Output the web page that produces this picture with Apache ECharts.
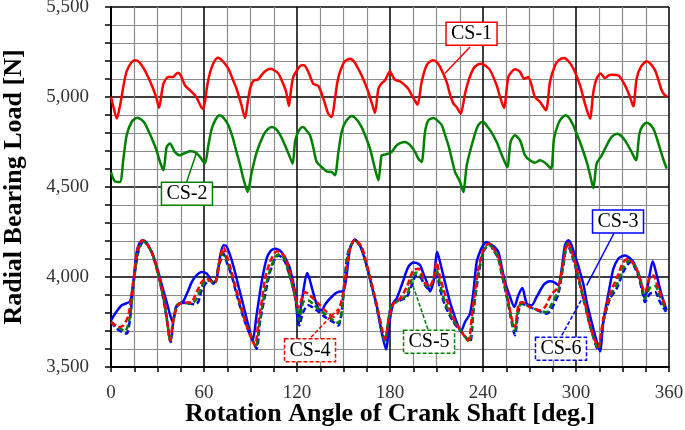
<!DOCTYPE html>
<html><head><meta charset="utf-8">
<script src="https://cdn.jsdelivr.net/npm/echarts@6/dist/echarts.min.js"></script>
<style>html,body{margin:0;padding:0;background:#fff}#c{width:685px;height:430px}</style>
</head><body><div id="c"></div>
<script>
// ---- data: [rotation angle (deg), radial bearing load (N)] ----
const cs1 = [[0,5000],[2,4930],[3.7,4880],[6,4960],[8,5060],[10,5140],[13,5190],[15.5,5204],[18,5195],[21,5160],[24,5110],[27,5050],[29.5,4990],[31,4940],[33.8,5074],[37,5111],[40,5111],[43,5135],[45,5120],[47.7,5065],[51,5037],[55,5000],[59,4935],[60.6,4972],[62,5060],[64,5139],[66.5,5195],[69,5218],[72,5200],[75.7,5157],[78,5110],[81,5046],[84,4960],[86.5,4883],[88,4960],[89.7,5046],[91.8,5089],[95,5098],[97,5120],[99.4,5143],[102.6,5157],[105,5150],[108,5130],[111,5075],[113,5028],[114.8,4950],[116,5030],[117.6,5110],[120.9,5160],[123,5176],[124.5,5176],[127.3,5139],[130.5,5074],[133.8,5061],[137,4991],[140.2,4907],[142.4,4889],[144.5,4991],[146,5080],[147.7,5139],[150.5,5195],[154.2,5213],[157,5195],[160.6,5139],[163.5,5085],[166,5028],[168.5,4960],[170.3,4911],[172.5,5046],[174.5,5075],[176.8,5093],[180,5143],[181.5,5120],[183.2,5096],[186.5,5087],[189,5070],[191.8,5046],[194,5010],[196,4981],[197.8,4957],[200.4,5083],[203.6,5176],[207.5,5204],[210,5195],[212.3,5167],[216.6,5083],[218.5,5020],[220.9,4963],[223,4944],[225.6,4907],[228.4,5018],[231,5100],[233.8,5157],[236.5,5180],[239,5185],[241.5,5175],[244.5,5150],[248.8,5065],[251,5000],[253.5,4939],[256.3,5111],[258.5,5140],[260.6,5154],[263.9,5139],[266.5,5102],[269.2,5111],[271.5,5060],[273.5,5000],[276.8,4972],[280.6,4926],[283.2,5083],[286.5,5176],[289,5205],[292.3,5217],[295,5200],[298.4,5157],[302.6,5065],[305.8,4963],[309,4880],[311.2,5028],[313.3,5102],[315.9,5130],[318.7,5105],[321,5120],[323,5124],[327.3,5120],[330,5090],[332.7,5046],[335,4995],[337,4948],[339.1,5102],[342,5170],[345.6,5198],[348,5185],[351,5148],[353,5100],[355.3,5037],[357.4,5009],[359,5005]];
const cs2 = [[0,4583],[2.6,4531],[5.8,4528],[8,4657],[10.1,4787],[13.3,4861],[17,4885],[19.5,4875],[21.9,4852],[24.5,4805],[27.3,4750],[29.5,4700],[31.6,4639],[33.8,4593],[35.9,4722],[38,4741],[41.3,4694],[44.5,4676],[46.7,4685],[51,4698],[54.2,4694],[57.4,4667],[60.6,4630],[62.8,4731],[65,4824],[67.5,4875],[70,4898],[72.5,4885],[75.7,4843],[78.5,4775],[81,4694],[83.5,4615],[85.4,4546],[88.2,4472],[90.8,4583],[94,4694],[98.3,4787],[101,4820],[103.7,4833],[106,4825],[108,4806],[110,4775],[112.3,4731],[115,4675],[117.2,4630],[118.7,4750],[120,4790],[122,4824],[124,4833],[126,4815],[128.4,4787],[130.5,4720],[132.7,4639],[135.9,4611],[139,4587],[142.4,4583],[144.5,4565],[146.7,4694],[148.8,4806],[151.5,4865],[155.3,4894],[158.5,4875],[161.7,4833],[164.5,4775],[167.1,4713],[170.3,4602],[172.5,4537],[174.6,4676],[176.8,4680],[178.9,4685],[181,4694],[184.3,4731],[187,4745],[189.7,4750],[192,4740],[194,4722],[196.5,4690],[198.3,4657],[200.4,4639],[202.6,4806],[204.7,4870],[208,4883],[210.5,4870],[213.4,4843],[215.5,4790],[217.7,4731],[220,4650],[222,4583],[225.2,4528],[227.3,4472],[229.5,4620],[232.7,4731],[235.9,4824],[238,4855],[240.2,4861],[242.4,4840],[245,4810],[248.8,4750],[252,4680],[255.7,4611],[257.8,4750],[260.6,4787],[263.9,4759],[267.1,4676],[270.3,4648],[273.5,4635],[276.8,4648],[280,4635],[283.9,4602],[285.8,4769],[288.6,4852],[291,4885],[293.3,4898],[295.5,4885],[298.2,4843],[300.5,4795],[302.6,4750],[306.9,4639],[309,4570],[311.2,4494],[313.3,4630],[316.6,4676],[319.8,4731],[323,4778],[326.7,4796],[329,4785],[331.6,4759],[335.9,4694],[338.7,4648],[340.9,4796],[343,4840],[345.6,4857],[347.5,4850],[349.9,4824],[352,4775],[354.2,4713],[356.5,4650],[358.5,4602]];
const cs3 = [[0,3759],[2.6,3796],[6.9,3843],[12.3,3865],[14.4,3972],[16.6,4139],[18.5,4190],[20.4,4204],[22.5,4195],[25.2,4157],[28,4100],[30.5,4028],[33,3950],[35.9,3861],[37.8,3800],[39.8,3750],[41.9,3830],[44.5,3852],[46.5,3862],[49.9,3926],[52,3970],[54.2,4000],[56.5,4020],[58.5,4028],[61.7,4019],[63.9,3991],[66,3963],[68.2,3991],[70.3,4111],[72.5,4176],[74,4175],[75.7,4148],[78,4090],[80,4028],[82.5,3940],[85.4,3843],[88.6,3731],[91.4,3648],[93.9,3787],[97.2,3972],[100.4,4102],[103,4145],[105.8,4157],[108,4152],[110,4139],[113,4095],[115.5,4046],[118.7,3917],[120.9,3741],[123,3861],[126.7,4022],[129.5,3944],[131.5,3880],[133.8,3824],[135.9,3815],[138,3845],[140.2,3870],[144.5,3907],[147,3918],[149.9,3920],[152,4009],[154.2,4157],[157.4,4209],[160.6,4176],[163.5,4105],[166,4028],[168.5,3940],[171.4,3843],[174.6,3694],[177.4,3598],[180,3769],[182.2,3857],[184.3,3880],[186.5,3930],[188.6,3981],[191.8,4056],[195,4080],[197,4078],[199.4,4065],[201.5,4020],[203.7,3972],[205.8,3920],[208,3972],[210.5,4139],[212.5,4075],[214.4,4009],[216.5,3935],[218.7,3861],[221,3800],[223,3750],[225.8,3698],[228.4,3750],[231.6,3796],[233.8,3917],[235.9,4083],[238,4139],[240,4175],[242.4,4194],[244.5,4185],[247,4170],[249.9,4139],[252,4060],[254.2,3972],[257,3900],[260.2,3833],[262.8,3898],[265.4,3939],[268.2,3852],[271.4,3843],[274.6,3889],[278.9,3954],[281,3970],[283.2,3976],[286,3970],[288.6,3954],[290.8,4046],[292.9,4176],[295,4204],[296.5,4190],[298.3,4148],[300.5,4090],[302.6,4028],[305,3950],[306.9,3861],[309.5,3770],[312.3,3676],[315.5,3587],[317.6,3750],[320.9,3907],[324.1,4046],[327.3,4102],[329.5,4115],[331.6,4120],[334,4110],[337,4083],[339,4045],[341.3,3991],[344.5,3880],[346.7,3972],[349.5,4087],[352.1,4009],[355.3,3898],[358.5,3815]];
const cs4 = [[0,3750],[4.8,3722],[8,3731],[11.2,3787],[14.4,3972],[17.2,4157],[20.4,4204],[23,4185],[26.2,4139],[29,4070],[31.6,3981],[34,3890],[35.9,3787],[38,3648],[40.2,3759],[43.4,3846],[47.7,3857],[52,3861],[55.3,3917],[58.5,3972],[61.7,3991],[64.5,3976],[67.1,3972],[70.3,4102],[72.5,4167],[75,4110],[77.8,4028],[81,3925],[84.3,3824],[87,3745],[89.7,3676],[92.9,3620],[95.1,3750],[97.5,3880],[99.4,3991],[102.6,4083],[106.9,4143],[109.5,4135],[112.3,4111],[115,4040],[117.6,3954],[120.9,3830],[125.2,3917],[128.4,3898],[133.8,3852],[139.1,3806],[143.4,3778],[146.7,3806],[149.9,3917],[152,4046],[154.2,4157],[157.4,4209],[161.7,4167],[164.5,4090],[167.1,4000],[170,3900],[172.5,3806],[176.8,3657],[179.4,3769],[182.2,3852],[186.5,3880],[190.8,3944],[195,4037],[198.3,4046],[202.6,3972],[205.4,3944],[208,3991],[210.1,4083],[212,4010],[214.4,3935],[217.5,3850],[220.9,3769],[226.2,3694],[230.5,3648],[233.3,3824],[237,4046],[240.2,4148],[243.4,4185],[244.5,4183],[247,4155],[249.9,4111],[252,4040],[254.2,3954],[256.5,3860],[258.5,3769],[260.6,3722],[262.8,3843],[265,3861],[270.3,3833],[276.8,3815],[280,3833],[284.3,3907],[288.6,3944],[291.8,4083],[294.5,4191],[297,4150],[299.4,4083],[301.5,4010],[303.7,3926],[306.5,3830],[309,3731],[314.4,3611],[317.6,3769],[321.9,3907],[326.2,3991],[330.5,4083],[333.8,4102],[336.5,4080],[339.1,4046],[344.5,3917],[347.7,4000],[349.9,4009],[353.1,3935],[358.1,3833]];
const cs5 = [[0,3750],[4.8,3720],[9,3700],[12.3,3780],[14.4,3960],[17.4,4145],[20.6,4200],[23,4183],[26.2,4139],[29,4065],[31.6,3975],[34,3875],[35.9,3775],[38.3,3643],[40.2,3752],[42.4,3843],[45.6,3857],[52,3852],[55.3,3880],[58.5,3945],[61.7,3981],[64.5,3978],[67.1,3965],[69.2,4060],[72.5,4140],[75,4085],[77.8,4018],[81,3915],[84.3,3815],[87.5,3735],[90.8,3665],[93.5,3610],[96,3752],[99.4,3930],[102.6,4040],[106,4110],[108,4125],[110,4118],[112.3,4095],[114.5,4030],[116.6,3965],[119.8,3850],[121.3,3760],[124,3860],[127.3,3870],[132.7,3830],[138,3795],[143.4,3760],[146.7,3745],[148.8,3800],[151,4000],[153.1,4140],[157.4,4206],[161.7,4160],[164.5,4080],[167.1,3995],[170,3890],[172.5,3795],[176.8,3645],[178.9,3755],[181,3845],[186.5,3872],[190.8,3900],[194,3985],[196.8,4025],[199.4,4015],[202.6,3962],[204.7,3940],[208,3980],[210.1,4040],[212.5,3950],[215.5,3860],[220.9,3760],[226.2,3694],[231,3642],[233.8,3810],[237,4020],[240.2,4142],[243.4,4178],[244.5,4178],[247,4150],[249.9,4106],[252,4030],[254.2,3945],[256.5,3850],[258.5,3760],[260.6,3700],[262.8,3825],[265,3855],[270.3,3833],[276.8,3812],[281.1,3805],[284.3,3850],[288.6,3925],[291.8,4072],[294.5,4188],[297,4140],[299.4,4072],[301.5,4000],[303.7,3920],[306.5,3825],[309,3731],[314.4,3600],[317.6,3755],[321.9,3890],[326.2,3955],[330.5,4050],[333.8,4088],[335.9,4090],[338,4060],[340.2,4025],[342.5,3950],[344.5,3880],[347.7,3940],[351,3950],[354.2,3890],[358.1,3815]];
const cs6 = [[0,3750],[3.7,3713],[7,3695],[10.1,3685],[12.3,3769],[14.4,3954],[17.6,4139],[20.9,4198],[23.5,4180],[26.2,4139],[29,4060],[31.6,3972],[34,3870],[35.9,3769],[38.5,3639],[40.2,3750],[42.4,3843],[45.6,3857],[50,3852],[54.2,3848],[56.3,3861],[58.5,3926],[61.7,3972],[64.5,3981],[67.1,3963],[69.2,4046],[72.5,4130],[75,4075],[77.8,4009],[81,3905],[84.3,3806],[87.5,3725],[90.8,3657],[94,3602],[96.1,3750],[99.4,3898],[102.6,4028],[105.8,4102],[108,4120],[110,4110],[112.3,4083],[114.5,4030],[116.6,3972],[119.8,3843],[121.5,3731],[124,3806],[127.3,3843],[132.7,3815],[138,3778],[143.4,3750],[146.7,3731],[148.8,3806],[151,4009],[153.1,4139],[157.4,4204],[161.7,4157],[164.5,4075],[167.1,3991],[170,3885],[172.5,3787],[176.8,3639],[178.9,3750],[181,3843],[186.5,3870],[190.8,3889],[194,3954],[196.8,4009],[199.4,4000],[202.6,3954],[204.7,3935],[208,3972],[210.1,4009],[212.5,3925],[215.5,3843],[220.9,3750],[226.2,3694],[231.6,3639],[233.8,3806],[237,4009],[240.2,4139],[243.4,4176],[244.5,4176],[247,4145],[249.9,4102],[252,4020],[254.2,3935],[256.5,3840],[258.5,3750],[260.6,3676],[262.8,3806],[265,3852],[270.3,3833],[276.8,3809],[281.1,3796],[284.3,3824],[288.6,3907],[291.8,4065],[294.5,4185],[297,4130],[299.4,4065],[301.5,3990],[303.7,3917],[306.5,3820],[309,3731],[314.4,3593],[317.6,3750],[321.9,3880],[326.2,3935],[330.5,4028],[333.8,4074],[335.9,4083],[338,4050],[340.2,4009],[342.5,3930],[344.5,3861],[347.7,3907],[351,3917],[354.2,3861],[358.1,3806]];

const seriesNames = ['CS-1','CS-2','CS-3','CS-4','CS-5','CS-6'];
const xTitle = 'Rotation Angle of Crank Shaft [deg.]';
const yTitle = 'Radial Bearing Load [N]';
// annotation anchors in data coordinates: box centre, leader start, leader end
const annBox   = [[232.6,5351],[49,4462],[327.1,4309],[128.4,3593],[205.2,3640],[290.3,3602]];
const annFrom  = [[231.6,5278],[48.8,4528],[324.5,4243],[129,3665],[204.5,3709],[290.8,3676]];
const annTo    = [[215.5,5132],[55.3,4694],[306.9,3954],[147.7,3833],[194,3972],[304.5,3889]];

const RED='#ff0000', GREEN='#008000', BLUE='#0000ff';
const colors = [RED, GREEN, BLUE, RED, GREEN, BLUE];
const dashed = [false,false,false,true,true,true];
const dash = [6,3];

const chart = echarts.init(document.getElementById('c'), null, {renderer:'canvas'});
const serif = '"Liberation Serif","Times New Roman",serif';

function mk(name, data, color, isDash, z) {
  return {
    name, type:'line', data, showSymbol:false, smooth:0.25, z,
    lineStyle:{color, width:2.5, type: isDash ? dash : 'solid'},
    animation:false
  };
}

const option = {
  animation:false,
  backgroundColor:'#fff',
  grid:{left:111, right:16, top:7, bottom:63, containLabel:false, outerBoundsMode:'none'},
  xAxis:{
    type:'value', min:0, max:360, interval:60,
    name:xTitle, nameLocation:'middle', nameGap:34, nameMoveOverlap:false,
    nameTextStyle:{fontFamily:serif, fontWeight:'bold', fontSize:26, color:'#000'},
    axisLine:{show:true, onZero:false, lineStyle:{color:'#000', width:2}},
    axisTick:{show:true, inside:false, length:5, lineStyle:{color:'#000', width:1.5}},
    minorTick:{show:true, splitNumber:4, length:5, lineStyle:{color:'#000', width:1.5}},
    axisLabel:{fontFamily:serif, fontSize:19, color:'#333', margin:17},
    splitLine:{show:true, lineStyle:{color:'#000', width:1.5}},
    minorSplitLine:{show:true, lineStyle:{color:'#8c8c8c', width:1.2}}
  },
  yAxis:{
    type:'value', min:3500, max:5500, interval:500,
    name:yTitle, nameLocation:'middle', nameGap:84, nameMoveOverlap:false,
    nameTextStyle:{fontFamily:serif, fontWeight:'bold', fontSize:26, color:'#000'},
    axisLine:{show:true, onZero:false, lineStyle:{color:'#000', width:2}},
    axisTick:{show:true, inside:false, length:6, lineStyle:{color:'#000', width:1.5}},
    minorTick:{show:true, splitNumber:5, length:6, lineStyle:{color:'#000', width:1.5}},
    axisLabel:{fontFamily:serif, fontSize:19, color:'#333', margin:22,
      formatter: v => v.toLocaleString('en-US')},
    splitLine:{show:true, lineStyle:{color:'#000', width:1.5}},
    minorSplitLine:{show:true, lineStyle:{color:'#8c8c8c', width:1.2}}
  },
  series:[
    mk(seriesNames[0], cs1, colors[0], dashed[0], 3),
    mk(seriesNames[1], cs2, colors[1], dashed[1], 3),
    mk(seriesNames[2], cs3, colors[2], dashed[2], 3),
    mk(seriesNames[5], cs6, colors[5], dashed[5], 4),
    mk(seriesNames[4], cs5, colors[4], dashed[4], 5),
    mk(seriesNames[3], cs4, colors[3], dashed[3], 6)
  ]
};
chart.setOption(option);

const BW = 51, BH = 23;
const graphics = [];
for (let i = 0; i < seriesNames.length; i++) {
  const c = chart.convertToPixel({gridIndex:0}, annBox[i]);
  const a = chart.convertToPixel({gridIndex:0}, annFrom[i]);
  const b = chart.convertToPixel({gridIndex:0}, annTo[i]);
  const ld = dashed[i] ? [4,2] : null;
  graphics.push({
    type:'line', z:100, silent:true,
    shape:{x1:a[0], y1:a[1], x2:b[0], y2:b[1]},
    style:{stroke:colors[i], lineWidth:1.5, lineDash:ld}
  });
  graphics.push({
    type:'rect', z:101, silent:true,
    shape:{x:c[0]-BW/2, y:c[1]-BH/2, width:BW, height:BH},
    style:{fill:'#fff', stroke:colors[i], lineWidth:1.5, lineDash:ld}
  });
  graphics.push({
    type:'text', z:102, silent:true,
    x:c[0], y:c[1],
    style:{text:seriesNames[i], font:'20px ' + serif, fill:'#000', align:'center', verticalAlign:'middle'}
  });
}
chart.setOption({graphic:graphics});
</script>
</body></html>
